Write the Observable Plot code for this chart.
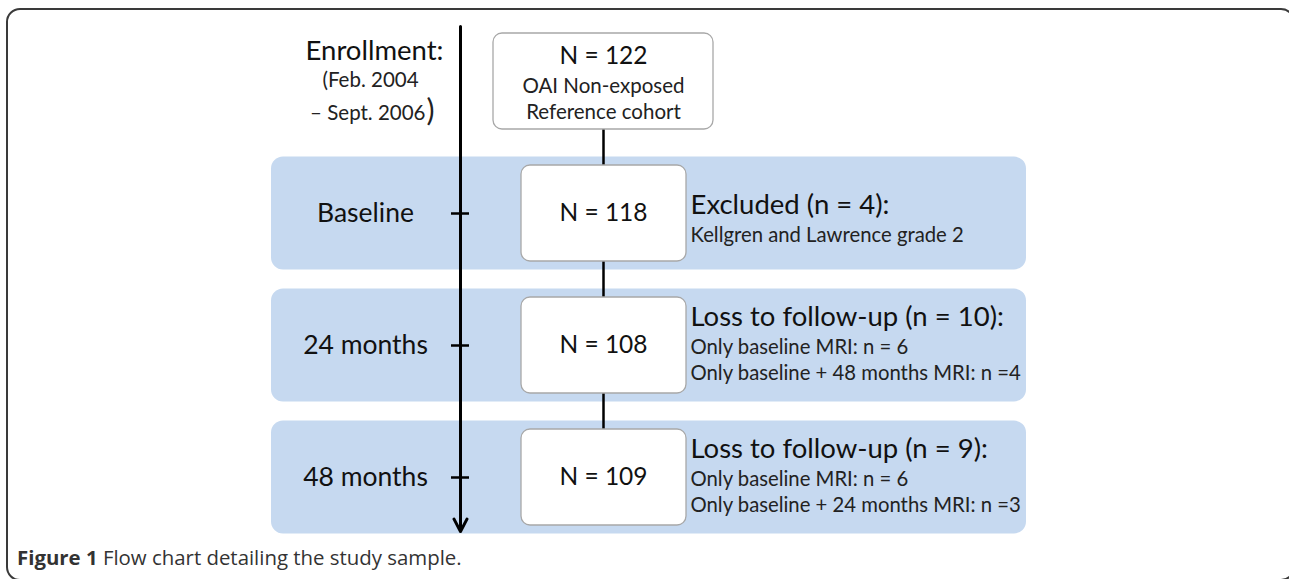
<!DOCTYPE html>
<html><head><meta charset="utf-8">
<script src="https://cdn.jsdelivr.net/npm/d3@7"></script>
<script src="https://cdn.jsdelivr.net/npm/@observablehq/plot@0.6"></script>
<style>
html,body{margin:0;padding:0;background:#fff;}
body{width:1289px;height:579px;overflow:hidden;position:relative;}
#frame{position:absolute;left:6px;top:8px;width:1289px;height:573px;border:2px solid #3a3a3a;border-radius:14px;box-sizing:border-box;}
#chart{position:absolute;left:0;top:0;}
#caption{position:absolute;left:17px;top:543px;font-family:"Open Sans",sans-serif;font-size:20.4px;color:#333;white-space:nowrap;}
</style></head><body>
<div id="frame"></div>
<div id="chart"></div>
<div id="caption"><b>Figure 1</b> Flow chart detailing the study sample.</div>
<script>
// ---- data ----
const stages = ["Enrollment", "Baseline", "24 months", "48 months"];
const stageLabels = ["Enrollment:", "Baseline", "24 months", "48 months"];
const enrollmentPeriod = ["(Feb. 2004", "– Sept. 2006", ")"];
const sampleN = [122, 118, 108, 109];
const cohortLabel = ["OAI Non-exposed", "Reference cohort"];
const lossHeadings = ["", "Excluded (n = 4):", "Loss to follow-up (n = 10):", "Loss to follow-up (n = 9):"];
const lossDetails = [
  [],
  ["Kellgren and Lawrence grade 2"],
  ["Only baseline MRI: n = 6", "Only baseline + 48 months MRI: n =4"],
  ["Only baseline MRI: n = 6", "Only baseline + 24 months MRI: n =3"]
];

// ---- layout ----
const W = 1289, H = 545;
const L = {
  timelineX: 460, tickX: [451, 469],
  labelX: 365, enrollLabelX: 374,
  bandX: [271, 1026], bandHalf: 56.5,
  boxFirstX: [493, 713], boxX: [521, 686], boxHalf: 48,
  connectorX: 603, noteX: 690,
  blue: "#c6d9f0", ink: "#111"
};

const rows = stages.map((s, i) => ({
  stage: s, label: stageLabels[i], n: sampleN[i],
  heading: lossHeadings[i], details: lossDetails[i]
}));
const later = rows.slice(1);

const noteMarks = later.flatMap(r => {
  const hdy = -8 - 20 * (r.details.length - 1);
  return [
    Plot.text([r], {x: () => L.noteX, y: "stage", text: "heading", textAnchor: "start",
      dy: hdy, fontSize: 27.5, fill: L.ink}),
    ...r.details.map((t, j) => Plot.text([r], {x: () => L.noteX, y: "stage", text: () => t,
      textAnchor: "start", dy: hdy + 30 + 26 * j, fontSize: 20.3, fill: "#222"}))
  ];
});

const chart = Plot.plot({
  width: W, height: H,
  margin: 0,
  style: {fontFamily: "Lato, sans-serif", background: "transparent"},
  x: {domain: [0, W], range: [0, W], axis: null},
  y: {type: "point", domain: stages, range: [80, 477], padding: 0, axis: null},
  marks: [
    // blue stage bands
    Plot.rect(later, {x1: () => L.bandX[0], x2: () => L.bandX[1], y1: "stage", y2: "stage",
      insetTop: -L.bandHalf, insetBottom: -L.bandHalf, fill: L.blue, rx: 12}),
    // connector through boxes
    Plot.ruleX([stages], {x: () => L.connectorX, y1: d => d[0], y2: d => d[d.length - 1],
      stroke: "#000", strokeWidth: 2.5}),
    // boxes
    Plot.rect(rows, {
      x1: d => (d.stage === stages[0] ? L.boxFirstX : L.boxX)[0],
      x2: d => (d.stage === stages[0] ? L.boxFirstX : L.boxX)[1],
      y1: "stage", y2: "stage", insetTop: -L.boxHalf, insetBottom: -L.boxHalf,
      fill: "#fff", stroke: "#a8a8a8", strokeWidth: 1.3, rx: 9}),
    // timeline
    Plot.arrow([stages], {x1: () => L.timelineX, x2: () => L.timelineX,
      y1: d => d[0], y2: d => d[d.length - 1], insetStart: -55, insetEnd: -54,
      stroke: "#000", strokeWidth: 3, headLength: 7, headAngle: 55}),
    Plot.ruleY(later, {y: "stage", x1: () => L.tickX[0], x2: () => L.tickX[1],
      stroke: "#000", strokeWidth: 2.5}),
    // stage labels
    Plot.text(later, {x: () => L.labelX, y: "stage", text: "label", fontSize: 26.5, fill: L.ink}),
    Plot.text([rows[0]], {x: () => L.enrollLabelX, y: "stage", text: "label", dy: -30, fontSize: 27.5, fill: L.ink}),
    Plot.text([rows[0]], {x: () => 370, y: "stage", text: () => enrollmentPeriod[0], dy: -1, fontSize: 20.5, fill: "#222"}),
    Plot.text([rows[0]], {x: () => 425, y: "stage", text: () => enrollmentPeriod[1], textAnchor: "end", dy: 32, fontSize: 20.5, fill: "#222"}),
    Plot.text([rows[0]], {x: () => 426, y: "stage", text: () => enrollmentPeriod[2], textAnchor: "start", dy: 30, fontSize: 30, fill: "#222"}),
    // box texts
    Plot.text([rows[0]], {x: () => L.connectorX, y: "stage", text: d => `N = ${d.n}`, dy: -25, fontSize: 24.5, fill: L.ink}),
    Plot.text([rows[0]], {x: () => L.connectorX, y: "stage", text: () => cohortLabel[0], dy: 5, fontSize: 20.5, fill: "#222"}),
    Plot.text([rows[0]], {x: () => L.connectorX, y: "stage", text: () => cohortLabel[1], dy: 31, fontSize: 20.5, fill: "#222"}),
    Plot.text(later, {x: () => L.connectorX, y: "stage", text: d => `N = ${d.n}`, fontSize: 24.5, fill: L.ink}),
    ...noteMarks
  ]
});
document.getElementById("chart").appendChild(chart);
</script>
</body></html>
